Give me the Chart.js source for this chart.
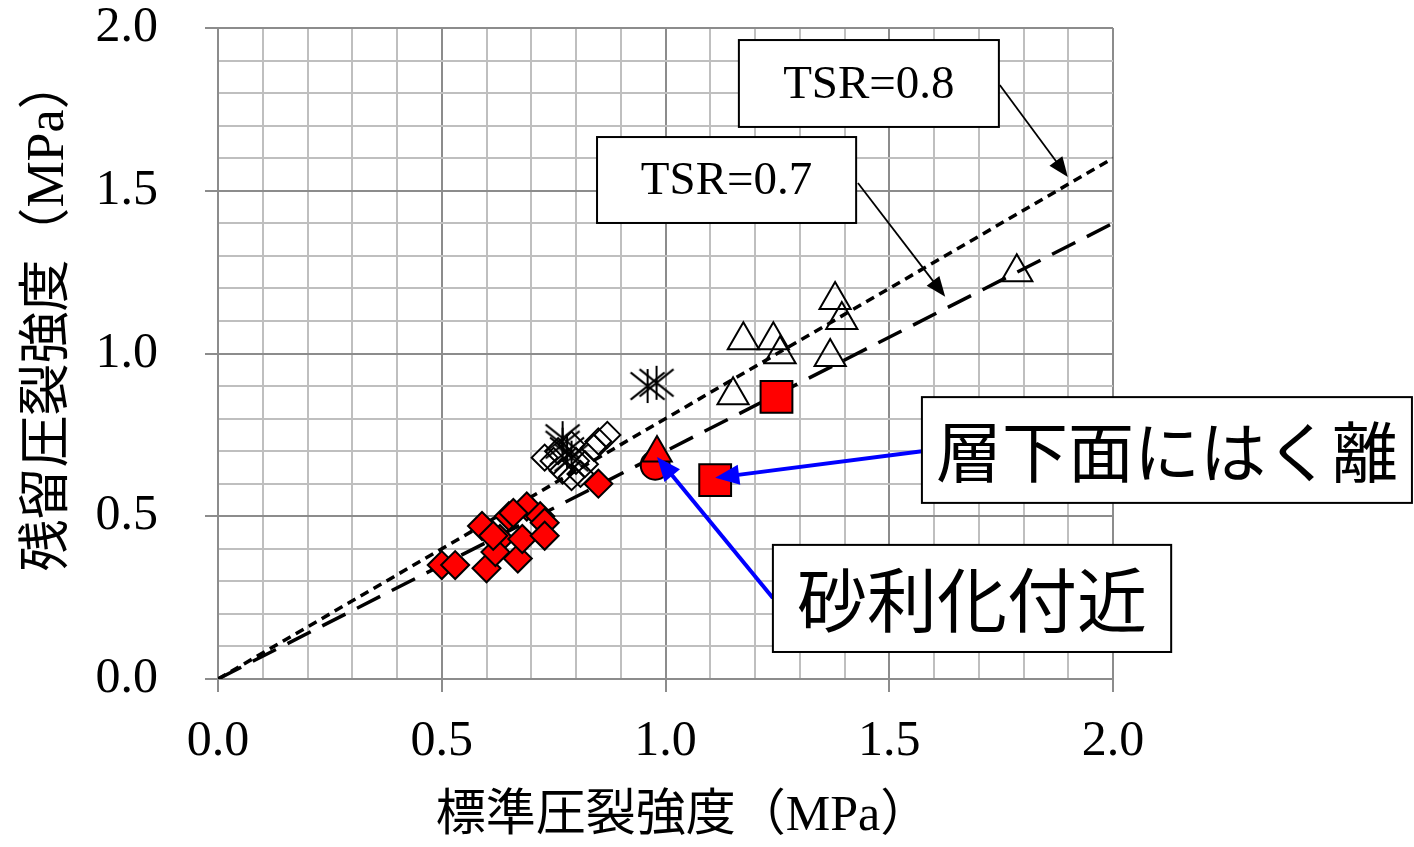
<!DOCTYPE html>
<html>
<head>
<meta charset="utf-8">
<script src="https://cdn.jsdelivr.net/npm/chart.js@4.4.0/dist/chart.umd.min.js"></script>
<style>
  html, body { margin: 0; padding: 0; background: #fff; }
  canvas { display: block; }
</style>
</head>
<body>
<canvas id="chart" width="1414" height="847"></canvas>
<script>
// values: [標準圧裂強度, 残留圧裂強度] in MPa
const redDiamonds = [
  [0.50, 0.35], [0.53, 0.35], [0.60, 0.34], [0.59, 0.47], [0.63, 0.43], [0.62, 0.39],
  [0.67, 0.37], [0.65, 0.50], [0.69, 0.53], [0.68, 0.43], [0.72, 0.50], [0.73, 0.48],
  [0.73, 0.44], [0.66, 0.51], [0.615, 0.44], [0.85, 0.60]
];
const whiteDiamonds = [
  [0.73, 0.68], [0.75, 0.67], [0.76, 0.70], [0.77, 0.64], [0.79, 0.62], [0.79, 0.72],
  [0.80, 0.67], [0.81, 0.63], [0.82, 0.66], [0.84, 0.71], [0.85, 0.73], [0.87, 0.75]
];
const stars = [[0.77, 0.74], [0.77, 0.72], [0.78, 0.70], [0.79, 0.68], [0.96, 0.90], [0.98, 0.91]];
const whiteTriangles = [
  [1.379, 1.164], [1.394, 1.103], [1.174, 1.041], [1.241, 1.041],
  [1.256, 0.998], [1.368, 0.989], [1.151, 0.872], [1.785, 1.25]
];
const redSquares = [[1.248, 0.867], [1.111, 0.611]];
const redTriangles = [[0.981, 0.694]];
const redCircles = [[0.977, 0.657]];

// TSR reference lines
const tsrRatios = [0.8, 0.7];
const lineEnds = [0, 2.0];

const xTickLabels = ['0.0', '0.5', '1.0', '1.5', '2.0'];
const yTickLabels = ['0.0', '0.5', '1.0', '1.5', '2.0'];

// leading spaces nudge the titles like the original
const xTitle = '\u2002\u2009標準圧裂強度（MPa）';
const yTitle = '\u2002　残留圧裂強度（MPa）';

const toXY = arr => arr.map(p => ({ x: p[0], y: p[1] }));
const isMajor = v => Math.abs(v * 2 - Math.round(v * 2)) < 1e-6;

// Excel style star: X plus a vertical bar
function starMarker(r) {
  const c = document.createElement('canvas');
  c.width = c.height = 2 * r + 4;
  const g = c.getContext('2d');
  const m = r + 2;
  g.strokeStyle = '#000';
  g.lineWidth = 2;
  g.beginPath();
  g.moveTo(m - r, m - r * 0.8); g.lineTo(m + r, m + r * 0.8);
  g.moveTo(m + r, m - r * 0.8); g.lineTo(m - r, m + r * 0.8);
  g.moveTo(m, m - r); g.lineTo(m, m + r);
  g.stroke();
  return c;
}

const RED = '#ff0000';
// higher order is drawn first (underneath)
const datasets = [
  {
    label: 'TSR=0.8', type: 'line', order: 10,
    data: lineEnds.map(v => ({ x: v, y: v * tsrRatios[0] })),
    borderColor: '#000', borderWidth: 3.5, borderDash: [9, 6], pointRadius: 0, fill: false
  },
  {
    label: 'TSR=0.7', type: 'line', order: 10,
    data: lineEnds.map(v => ({ x: v, y: v * tsrRatios[1] })),
    borderColor: '#000', borderWidth: 3.5, borderDash: [26, 13], pointRadius: 0, fill: false
  },
  { label: 'stars', order: 7, data: toXY(stars), pointStyle: starMarker(17), pointRadius: 17 },
  { label: 'white diamonds', order: 6, data: toXY(whiteDiamonds), pointStyle: 'rectRot', pointRadius: 13,
    backgroundColor: 'rgba(0,0,0,0)', borderColor: '#000', borderWidth: 2 },
  { label: 'white triangles', order: 6, data: toXY(whiteTriangles), pointStyle: 'triangle', pointRadius: 18,
    backgroundColor: 'rgba(0,0,0,0)', borderColor: '#000', borderWidth: 2 },
  { label: 'red diamonds', order: 4, data: toXY(redDiamonds), pointStyle: 'rectRot', pointRadius: 14,
    backgroundColor: RED, borderColor: '#000', borderWidth: 2 },
  { label: 'red squares', order: 3, data: toXY(redSquares), pointStyle: 'rect', pointRadius: 22.5,
    backgroundColor: RED, borderColor: '#000', borderWidth: 2 },
  { label: 'red circle', order: 2, data: toXY(redCircles), pointStyle: 'circle', pointRadius: 14.5,
    backgroundColor: RED, borderColor: '#000', borderWidth: 2 },
  { label: 'red triangle', order: 1, data: toXY(redTriangles), pointStyle: 'triangle', pointRadius: 17,
    backgroundColor: RED, borderColor: '#000', borderWidth: 2 }
];

// callout boxes and arrows, positioned in data units
const callouts = [
  { text: 'TSR=0.8', font: '47px "Liberation Serif", serif', box: [1.164, 1.963, 1.745, 1.696],
    from: [1.747, 1.825], to: [1.899, 1.542], color: '#000', width: 1.8, head: [20, 8] },
  { text: 'TSR=0.7', font: '47px "Liberation Serif", serif', box: [0.847, 1.665, 1.426, 1.401],
    from: [1.430, 1.524], to: [1.625, 1.174], color: '#000', width: 1.8, head: [20, 8] },
  { text: '層下面にはく離', font: '66px "Noto Sans CJK JP", sans-serif', box: [1.573, 0.866, 2.668, 0.541],
    from: [1.573, 0.700], to: [1.111, 0.618], color: '#0000ff', width: 4, head: [24, 10] },
  { text: '砂利化付近', font: '70px "Noto Sans CJK JP", sans-serif', box: [1.240, 0.412, 2.130, 0.083],
    from: [1.240, 0.249], to: [0.981, 0.682], color: '#0000ff', width: 4, head: [24, 10] }
];

const calloutPlugin = {
  id: 'callouts',
  afterDatasetsDraw(chart) {
    const { ctx, scales: { x, y } } = chart;
    ctx.save();
    callouts.forEach(c => {
      const x1 = x.getPixelForValue(c.box[0]), y1 = y.getPixelForValue(c.box[1]);
      const x2 = x.getPixelForValue(c.box[2]), y2 = y.getPixelForValue(c.box[3]);
      // arrow
      const sx = x.getPixelForValue(c.from[0]), sy = y.getPixelForValue(c.from[1]);
      const tx = x.getPixelForValue(c.to[0]), ty = y.getPixelForValue(c.to[1]);
      const ang = Math.atan2(ty - sy, tx - sx);
      const [hl, hw] = c.head;
      ctx.strokeStyle = c.color;
      ctx.fillStyle = c.color;
      ctx.lineWidth = c.width;
      ctx.beginPath();
      ctx.moveTo(sx, sy);
      ctx.lineTo(tx - Math.cos(ang) * hl * 0.8, ty - Math.sin(ang) * hl * 0.8);
      ctx.stroke();
      ctx.beginPath();
      ctx.moveTo(tx, ty);
      ctx.lineTo(tx - Math.cos(ang) * hl - Math.sin(ang) * hw, ty - Math.sin(ang) * hl + Math.cos(ang) * hw);
      ctx.lineTo(tx - Math.cos(ang) * hl + Math.sin(ang) * hw, ty - Math.sin(ang) * hl - Math.cos(ang) * hw);
      ctx.closePath();
      ctx.fill();
      // box
      ctx.fillStyle = '#fff';
      ctx.fillRect(x1, y1, x2 - x1, y2 - y1);
      ctx.strokeStyle = '#000';
      ctx.lineWidth = 2;
      ctx.strokeRect(x1, y1, x2 - x1, y2 - y1);
      ctx.fillStyle = '#000';
      ctx.font = c.font;
      ctx.textAlign = 'center';
      ctx.textBaseline = 'middle';
      ctx.fillText(c.text, (x1 + x2) / 2, (y1 + y2) / 2 + 2);
    });
    ctx.restore();
  }
};

const tickFont = { family: '"Liberation Serif", "Times New Roman", serif', size: 50 };
const xTitleFont = { family: '"Liberation Serif", "Noto Sans CJK JP", sans-serif', size: 50 };
const yTitleFont = { family: '"Liberation Serif", "Noto Sans CJK JP", sans-serif', size: 52 };

const gridStyle = {
  color: ctx => isMajor(ctx.tick ? ctx.tick.value : 0) ? '#8c8c8c' : '#bfbfbf',
  lineWidth: 2,
  tickLength: 13,
  tickColor: ctx => isMajor(ctx.tick ? ctx.tick.value : 0) ? '#8c8c8c' : 'rgba(0,0,0,0)',
  tickWidth: 2
};

new Chart(document.getElementById('chart'), {
  type: 'scatter',
  data: { datasets },
  options: {
    responsive: false,
    animation: false,
    layout: { padding: { top: 28, right: 301, left: 0, bottom: 0 } },
    plugins: { legend: { display: false }, tooltip: { enabled: false } },
    scales: {
      x: {
        type: 'linear', min: 0, max: 2.0,
        afterFit: s => { s.height = 168; s.paddingLeft = 0; s.paddingRight = 0; },
        ticks: {
          stepSize: 0.1, autoSkip: false, maxRotation: 0, padding: 20,
          font: tickFont, color: '#000',
          callback: v => isMajor(v) ? xTickLabels[Math.round(v * 2)] : ''
        },
        grid: gridStyle,
        border: { color: '#8c8c8c', width: 2 },
        title: { display: true, text: xTitle, font: xTitleFont, color: '#000', padding: { top: 0, bottom: 0 } }
      },
      y: {
        type: 'linear', min: 0, max: 2.0,
        afterFit: s => { s.width = 218; s.paddingTop = 0; s.paddingBottom = 0; },
        ticks: {
          stepSize: 0.1, autoSkip: false, padding: 47,
          font: tickFont, color: '#000',
          callback: v => isMajor(v) ? yTickLabels[Math.round(v * 2)] : ''
        },
        grid: gridStyle,
        border: { color: '#8c8c8c', width: 2 },
        title: { display: true, text: yTitle, font: yTitleFont, color: '#000', padding: { top: 18, bottom: 0 } }
      }
    }
  },
  plugins: [calloutPlugin]
});
</script>
</body>
</html>
